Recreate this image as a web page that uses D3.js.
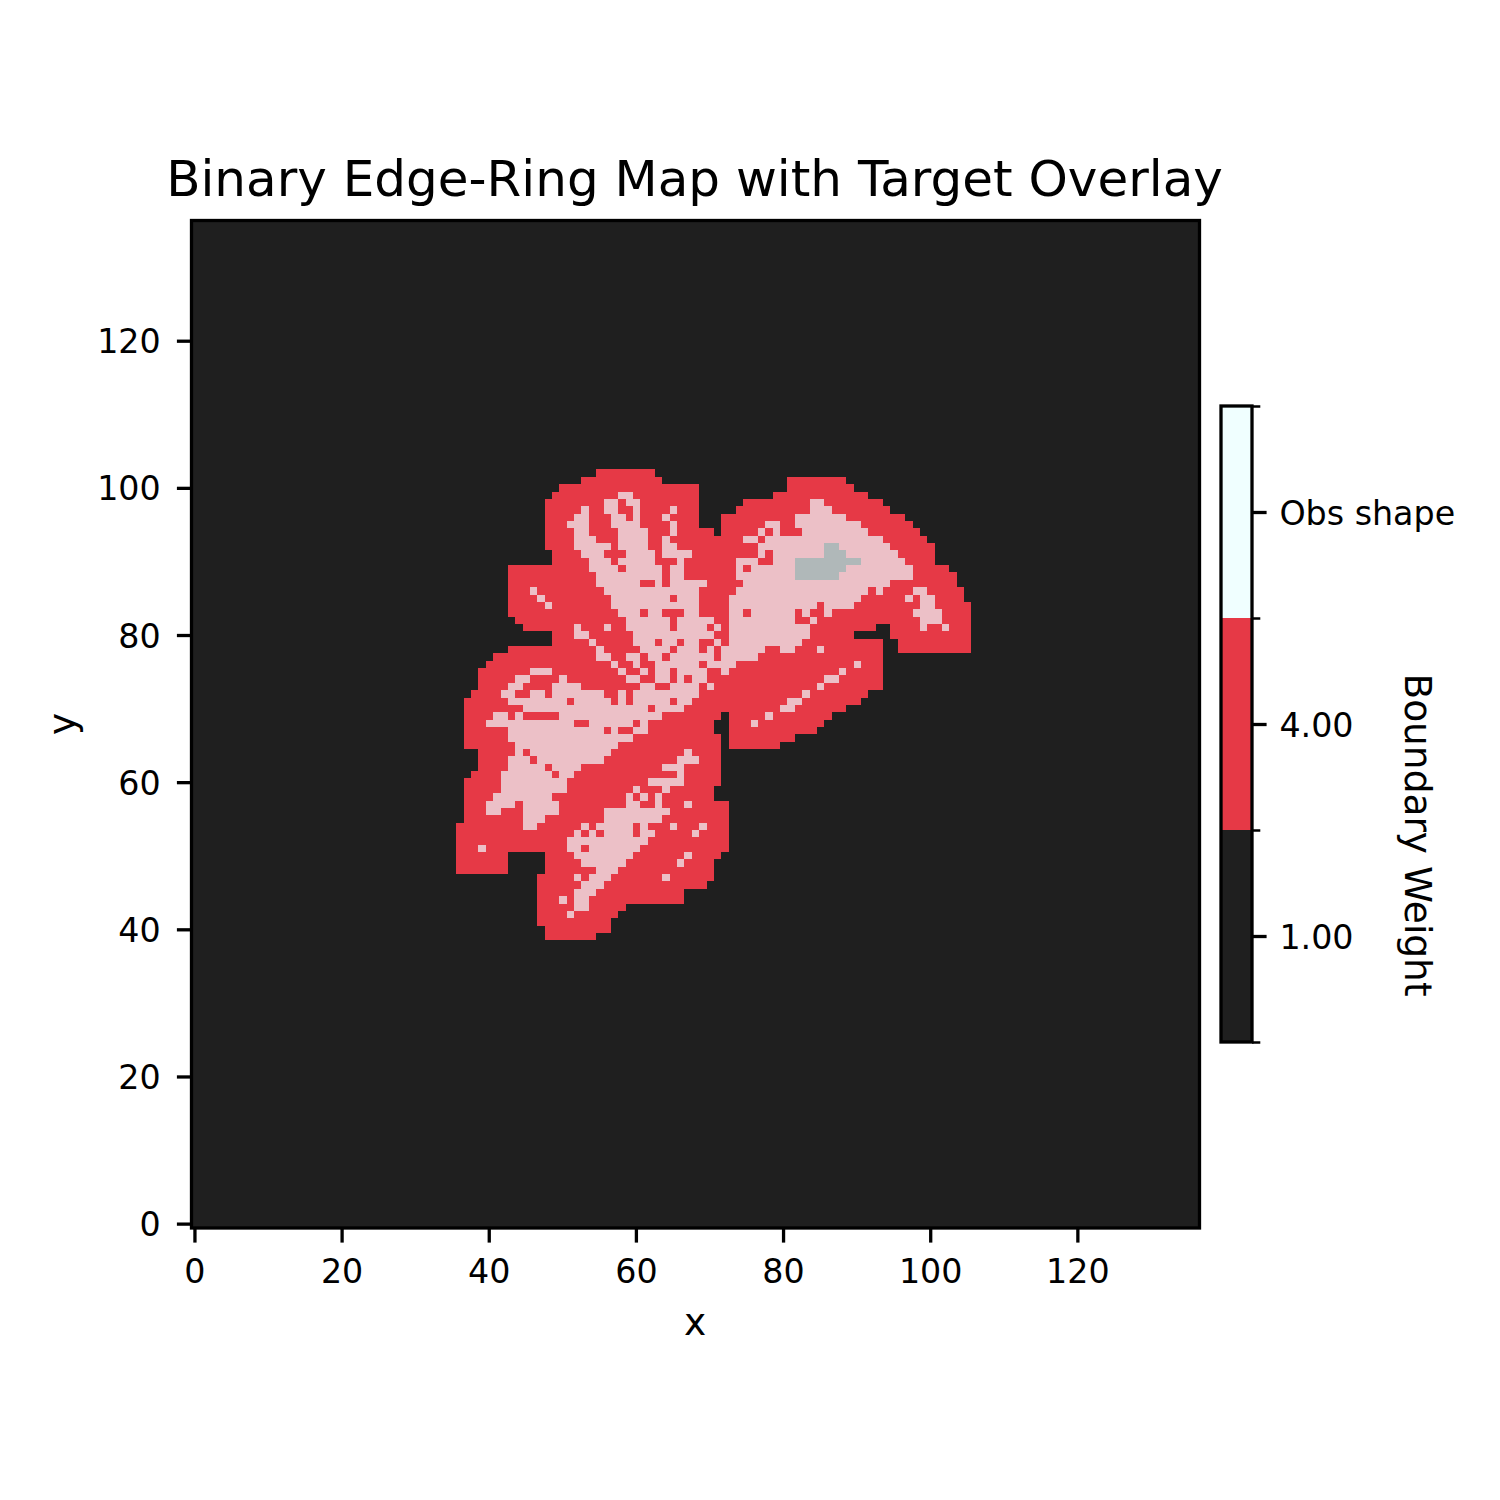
<!DOCTYPE html>
<html>
<head>
<meta charset="utf-8">
<title>Binary Edge-Ring Map with Target Overlay</title>
<script src="https://cdn.jsdelivr.net/npm/d3@7"></script>
<style>
body { margin: 0; background: #fff; }
text { font-family: "DejaVu Sans", sans-serif; fill: #000; }
</style>
</head>
<body>
<div id="grafico"></div>
<script>
// each line: row, then start,end pairs of the cells
var edgeRows = [
	[102, 55,62],
	[101, 53,63, 81,88],
	[100, 50,68, 81,89],
	[99, 49,68, 79,91],
	[98, 48,68, 75,93],
	[97, 48,68, 74,94],
	[96, 48,68, 72,96],
	[95, 48,68, 72,97],
	[94, 48,70, 72,98],
	[93, 48,99],
	[92, 48,100],
	[91, 49,100],
	[90, 49,100],
	[89, 43,102],
	[88, 43,103],
	[87, 43,103],
	[86, 43,104],
	[85, 43,104],
	[84, 43,105],
	[83, 43,105],
	[82, 44,105],
	[81, 45,92, 95,105],
	[80, 49,89, 95,105],
	[79, 49,93, 96,105],
	[78, 43,93, 96,105],
	[77, 41,93],
	[76, 40,93],
	[75, 39,93],
	[74, 39,93],
	[73, 39,93],
	[72, 38,91],
	[71, 37,90],
	[70, 37,88],
	[69, 37,71, 73,86],
	[68, 37,70, 73,85],
	[67, 37,70, 73,84],
	[66, 37,71, 73,81],
	[65, 37,71, 73,79],
	[64, 39,71],
	[63, 39,71],
	[62, 39,71],
	[61, 38,71],
	[60, 37,71],
	[59, 37,70],
	[58, 37,70],
	[57, 37,72],
	[56, 37,72],
	[55, 37,72],
	[54, 36,72],
	[53, 36,72],
	[52, 36,72],
	[51, 36,72],
	[50, 36,42, 48,71],
	[49, 36,42, 48,70],
	[48, 36,42, 48,70],
	[47, 47,70],
	[46, 47,69],
	[45, 47,66],
	[44, 47,66],
	[43, 47,58],
	[42, 47,57],
	[41, 47,56],
	[40, 48,56],
	[39, 48,54]
];

var obsRows = [
	[99, 58,59],
	[98, 56,57, 59,60, 84,85],
	[97, 53,53, 56,57, 60,60, 65,65, 84,86],
	[96, 52,53, 57,58, 60,60, 64,64, 82,88],
	[95, 51,53, 57,60, 65,65, 78,79, 82,90],
	[94, 52,53, 58,61, 65,65, 77,77, 79,79, 83,91],
	[93, 52,54, 58,61, 64,64, 75,76, 78,93],
	[92, 52,56, 58,61, 64,65, 77,94],
	[91, 53,55, 59,62, 64,67, 77,77, 79,95],
	[90, 54,56, 58,62, 66,66, 74,76, 79,96],
	[89, 54,57, 59,63, 65,66, 74,74, 76,97],
	[88, 55,63, 65,66, 74,97],
	[87, 55,60, 63,63, 65,69, 75,94],
	[86, 46,46, 56,68, 74,91, 93,93, 98,99],
	[85, 47,47, 57,64, 66,68, 73,90, 97,97, 99,100],
	[84, 48,48, 57,68, 73,84, 86,89, 99,100],
	[83, 58,60, 62,63, 67,68, 73,74, 76,81, 83,83, 86,86, 98,101],
	[82, 59,64, 66,70, 73,81, 84,84, 99,101],
	[81, 52,52, 56,56, 59,64, 66,69, 71,71, 73,83, 99,99, 102,102],
	[80, 52,53, 60,70, 73,83],
	[79, 54,54, 60,62, 64,65, 67,68, 71,71, 73,82],
	[78, 55,55, 61,64, 66,68, 70,70, 72,77, 80,81, 85,85],
	[77, 55,56, 59,60, 62,63, 65,70, 72,76],
	[76, 57,57, 60,60, 63,68, 70,73, 90,90],
	[75, 46,48, 58,58, 61,61, 63,64, 66,69, 72,72, 88,88],
	[74, 44,45, 50,50, 59,60, 63,64, 66,66, 68,69, 86,87],
	[73, 43,44, 49,52, 61,62, 65,68, 70,70, 85,85],
	[72, 42,43, 46,47, 49,55, 58,58, 60,68, 83,83],
	[71, 43,50, 52,56, 58,58, 60,64, 66,67, 81,82],
	[70, 45,61, 63,66, 80,81],
	[69, 41,42, 44,44, 50,63, 78,78],
	[68, 40,51, 54,59, 61,61, 76,76],
	[67, 43,55, 57,57, 60,61],
	[66, 43,59],
	[65, 44,57],
	[64, 44,44, 46,56, 67,67],
	[63, 43,45, 47,55, 66,68],
	[62, 43,47, 49,52, 64,66],
	[61, 42,48, 50,51, 66,66],
	[60, 42,50, 62,66],
	[59, 42,50, 60,60, 64,64],
	[58, 41,48, 59,59, 61,61, 63,63],
	[57, 40,43, 45,49, 59,60, 63,63, 67,67],
	[56, 40,41, 45,49, 56,64],
	[55, 45,47, 56,63],
	[54, 45,46, 53,53, 55,59, 61,61, 65,65, 69,69],
	[53, 52,52, 54,54, 56,59, 61,62, 68,68],
	[52, 51,61],
	[51, 39,39, 51,52, 54,60],
	[50, 52,59, 67,67],
	[49, 53,58, 66,66],
	[48, 55,57],
	[47, 52,52, 54,56, 64,64],
	[46, 53,55],
	[45, 52,54],
	[44, 50,50, 52,53],
	[43, 52,53],
	[42, 51,51]
];

var targetRows = [
	[92, 86,87],
	[91, 86,88],
	[90, 82,90],
	[89, 82,88],
	[88, 82,87]
];

var axisTicks = [0, 20, 40, 60, 80, 100, 120];
var barLabels = ["1.00", "4.00", "Obs shape"];
var barColors = ["#1f1f1f", "#e63946", "#f0ffff"];

var BG = "#1f1f1f", EDGE = "#e63946", OBS = "#ecc0c7", TARGET = "#b0b8b9";

var svg = d3.select("#grafico").append("svg")
	.attr("width", 1500)
	.attr("height", 1500)
	.style("display", "block");

var left = 191.5, right = 1199.5, top_ = 220.5, bottom = 1228;

// the cells sit a bit off the ticks in the original, hence -0.4 and not -0.5
var x = d3.scaleLinear().domain([-0.4, 136.6]).range([left, right]);
var y = d3.scaleLinear().domain([-0.5, 136.5]).range([1227.3, 219.3]);

var plot = svg.append("g");

plot.append("rect")
	.attr("x", left).attr("y", top_)
	.attr("width", right - left).attr("height", bottom - top_)
	.attr("fill", BG);

function drawRuns(rows, color) {
	var runs = [];
	rows.forEach(function(row) {
		for (var i = 1; i < row.length; i += 2) runs.push({r: row[0], a: row[i], b: row[i + 1]});
	});
	plot.append("g").selectAll("rect")
		.data(runs)
	  .enter().append("rect")
		.attr("x", function(d) { return x(d.a - 0.4); })
		.attr("y", function(d) { return y(d.r + 0.5); })
		.attr("width", function(d) { return x(d.b + 0.6) - x(d.a - 0.4); })
		.attr("height", function(d) { return y(d.r - 0.5) - y(d.r + 0.5); })
		.attr("fill", color)
		.attr("shape-rendering", "crispEdges");
}

drawRuns(edgeRows, EDGE);
drawRuns(obsRows, OBS);
drawRuns(targetRows, TARGET);

// spines
plot.append("rect")
	.attr("x", left).attr("y", top_)
	.attr("width", right - left).attr("height", bottom - top_)
	.attr("fill", "none")
	.attr("stroke", "#000")
	.attr("stroke-width", 3.3);

function styleAxis(g) {
	g.select(".domain").remove();
	g.selectAll("line").attr("stroke", "#000").attr("stroke-width", 3.3);
	g.selectAll("text").style("font-size", "33.3px").style("font-family", '"DejaVu Sans", sans-serif');
}

svg.append("g")
	.attr("transform", "translate(0," + bottom + ")")
	.call(d3.axisBottom(x).tickValues(axisTicks).tickSize(14.6).tickPadding(16.6).tickFormat(d3.format("d")))
	.call(styleAxis);

svg.append("g")
	.attr("transform", "translate(" + left + ",0)")
	.call(d3.axisLeft(y).tickValues(axisTicks).tickSize(14.6).tickPadding(16.2).tickFormat(d3.format("d")))
	.call(styleAxis)
	.selectAll("text").attr("dy", "0.36em");

svg.append("text")
	.attr("x", 694.5).attr("y", 195.5)
	.attr("text-anchor", "middle")
	.style("font-size", "50px")
	.text("Binary Edge-Ring Map with Target Overlay");

svg.append("text")
	.attr("x", 695).attr("y", 1335)
	.attr("text-anchor", "middle")
	.style("font-size", "37.5px")
	.text("x");

svg.append("text")
	.attr("transform", "translate(75,724) rotate(-90)")
	.attr("text-anchor", "middle")
	.style("font-size", "37.5px")
	.text("y");

// colour bar
var barLeft = 1221, barRight = 1252;
var barY = d3.scaleLinear().domain([0, barLabels.length]).range([1042, 406]);

var bar = svg.append("g");
bar.selectAll("rect")
	.data(barColors)
  .enter().append("rect")
	.attr("x", barLeft)
	.attr("y", function(d, i) { return barY(i + 1); })
	.attr("width", barRight - barLeft)
	.attr("height", function(d, i) { return barY(i) - barY(i + 1); })
	.attr("fill", function(d) { return d; })
	.attr("shape-rendering", "crispEdges");

bar.append("rect")
	.attr("x", barLeft).attr("y", barY(3))
	.attr("width", barRight - barLeft).attr("height", barY(0) - barY(3))
	.attr("fill", "none")
	.attr("stroke", "#000")
	.attr("stroke-width", 3.3);

svg.append("g")
	.attr("transform", "translate(" + barRight + ",0)")
	.call(d3.axisRight(barY).tickValues([0.5, 1.5, 2.5]).tickSize(14.6).tickPadding(12.8)
		.tickFormat(function(d, i) { return barLabels[i]; }))
	.call(styleAxis)
	.selectAll("text").attr("dy", "0.38em");

var barMinor = svg.append("g")
	.attr("transform", "translate(" + barRight + ",0)")
	.call(d3.axisRight(barY).tickValues([0, 1, 2, 3]).tickSize(8.3).tickFormat(""));
barMinor.select(".domain").remove();
barMinor.selectAll("line").attr("stroke", "#000").attr("stroke-width", 2.5);

svg.append("text")
	.attr("transform", "translate(1405,835) rotate(90)")
	.attr("text-anchor", "middle")
	.style("font-size", "37.5px")
	.text("Boundary Weight");
</script>
</body>
</html>
